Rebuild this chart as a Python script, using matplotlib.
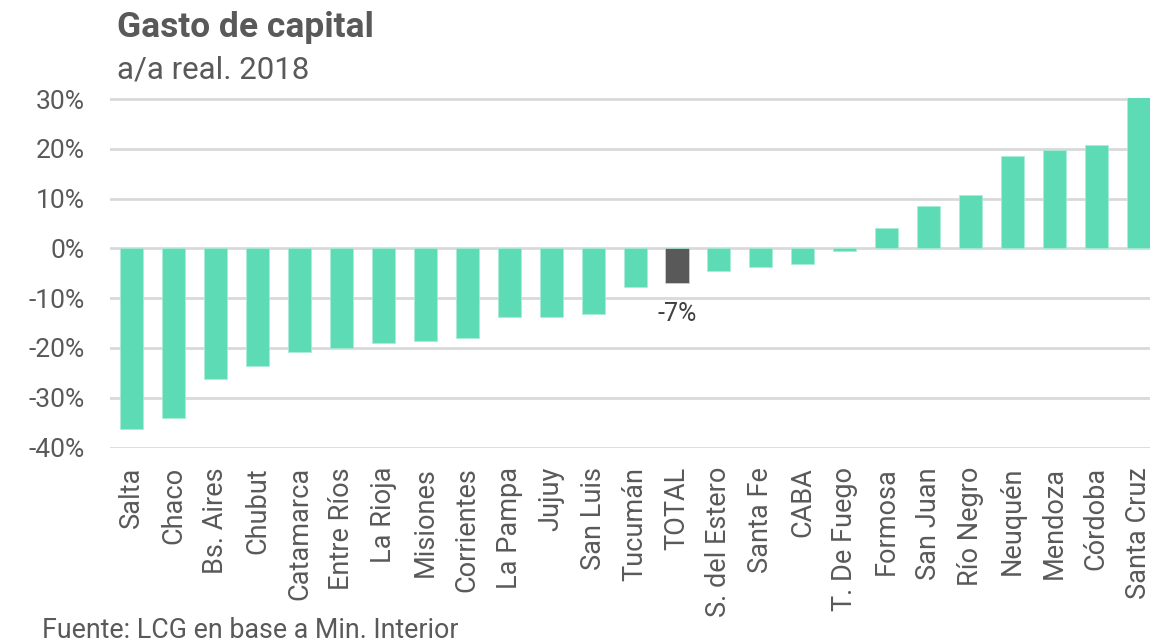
import matplotlib
matplotlib.use("Agg")
import matplotlib.pyplot as plt

# data (a/a real %, 2018)
provincias = ["Salta", "Chaco", "Bs. Aires", "Chubut", "Catamarca", "Entre Ríos",
              "La Rioja", "Misiones", "Corrientes", "La Pampa", "Jujuy", "San Luis",
              "Tucumán", "TOTAL", "S. del Estero", "Santa Fe", "CABA", "T. De Fuego",
              "Formosa", "San Juan", "Río Negro", "Neuquén", "Mendoza", "Córdoba",
              "Santa Cruz"]
variacion = [-36.3, -34.0, -26.3, -23.6, -20.9, -20.0, -19.1, -18.6, -18.1, -13.7,
             -13.7, -13.1, -7.8, -7.0, -4.6, -3.7, -3.2, -0.5, 4.0, 8.5, 10.8,
             18.5, 19.8, 20.7, 31.0]
yticks = [-40, -30, -20, -10, 0, 10, 20, 30]

plt.rcParams["font.family"] = ["Roboto", "DejaVu Sans"]
gris = "#595959"
verde = "#5CDBB4"

fig = plt.figure(figsize=(11.5, 6.43), dpi=100)
ax = fig.add_axes([110 / 1150, 0.304, 1040 / 1150, 0.5443])

colores = ["#595959" if p == "TOTAL" else verde for p in provincias]
x = list(range(len(provincias)))
ax.bar(x, variacion, width=0.55, color=colores, edgecolor="#A8EDD8", linewidth=0.5, zorder=2)

# etiqueta del total
i_total = provincias.index("TOTAL")
ax.text(i_total, variacion[i_total] - 3.8, "%d%%" % round(variacion[i_total]),
        ha="center", va="top", fontsize=18, color="#404040")

ax.set_xlim(-0.52, 24.28)
ax.set_ylim(-40, 30.3)
ax.set_yticks(yticks)
ax.set_yticklabels(["%d%%" % v for v in yticks], fontsize=19, color=gris)
ax.set_xticks(x)
ax.set_xticklabels(provincias, rotation=90, fontsize=19.5, color=gris)
ax.tick_params(axis="both", length=0)
ax.tick_params(axis="y", pad=18)
ax.tick_params(axis="x", pad=14)
ax.grid(axis="y", color="#D9D9D9", linewidth=2)
ax.set_axisbelow(True)
for s in ax.spines.values():
    s.set_visible(False)

fig.text(117 / 1150, 1 - 28 / 643, "Gasto de capital", fontsize=25.5, fontweight="bold",
         color=gris, va="center")
fig.text(117 / 1150, 1 - 70 / 643, "a/a real. 2018", fontsize=22.5, color=gris, va="center")
fig.text(42 / 1150, 1 - 630 / 643, "Fuente: LCG en base a Min. Interior", fontsize=19.3,
         color=gris, va="center")

fig.savefig("out.png", dpi=100)
